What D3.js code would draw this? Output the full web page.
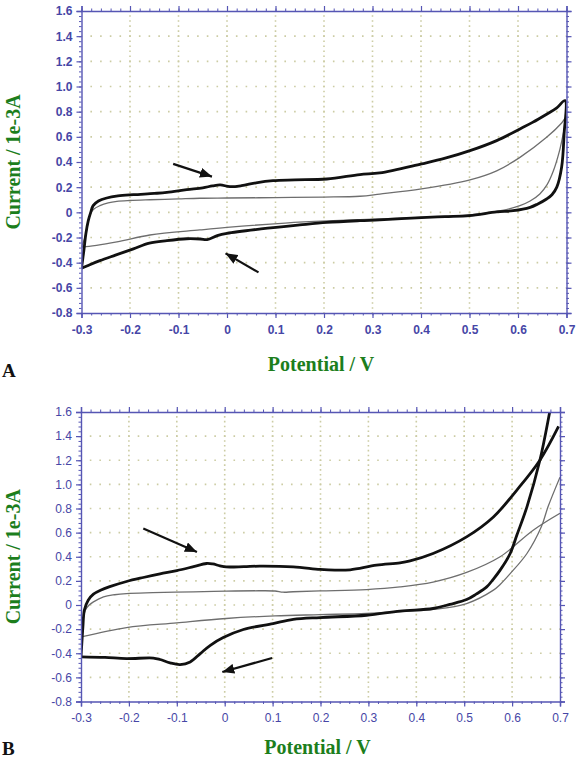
<!DOCTYPE html>
<html><head><meta charset="utf-8">
<script src="https://cdn.jsdelivr.net/npm/d3@7"></script>
<style>body{margin:0;background:#fff}svg{display:block}</style>
</head><body>
<svg id="c" width="577" height="761"></svg>
<script>
// ---------- DATA ----------
const xTicks = [-0.3,-0.2,-0.1,0,0.1,0.2,0.3,0.4,0.5,0.6,0.7];
const yTicks = [-0.8,-0.6,-0.4,-0.2,0,0.2,0.4,0.6,0.8,1.0,1.2,1.4,1.6];
const xTitle = "Potential / V";
const yTitle = "Current / 1e-3A";
const panelLabels = ["A","B"];

// Panel A: thick loop (modified electrode), thin loop (bare)
const aThick = [[-0.300,-0.445],[-0.295,-0.30],[-0.291,-0.17],[-0.286,-0.066],[-0.281,0.0],[-0.276,0.053],[-0.265,0.09],[-0.248,0.114],[-0.225,0.130],[-0.193,0.140],[-0.150,0.150],[-0.124,0.158],[-0.083,0.180],[-0.050,0.195],[-0.030,0.210],[-0.014,0.218],[0.006,0.204],[0.030,0.212],[0.060,0.235],[0.095,0.252],[0.140,0.258],[0.206,0.265],[0.274,0.300],[0.315,0.313],[0.401,0.385],[0.450,0.430],[0.501,0.490],[0.556,0.570],[0.604,0.663],[0.630,0.715],[0.659,0.780],[0.680,0.830],[0.697,0.888],
  [0.695,0.62],[0.690,0.36],[0.680,0.20],[0.670,0.14],[0.659,0.106],[0.640,0.065],[0.625,0.040],[0.590,0.013],[0.556,0.003],[0.500,-0.026],[0.450,-0.034],[0.401,-0.042],[0.315,-0.060],[0.274,-0.066],[0.206,-0.080],[0.150,-0.100],[0.070,-0.132],[0.000,-0.167],[-0.020,-0.185],[-0.041,-0.217],[-0.055,-0.212],[-0.083,-0.210],[-0.124,-0.225],[-0.160,-0.245],[-0.193,-0.290],[-0.230,-0.340],[-0.262,-0.384],[-0.285,-0.420],[-0.300,-0.445]];
const aThin = [[-0.300,-0.275],[-0.293,-0.20],[-0.287,-0.09],[-0.282,-0.013],[-0.275,0.025],[-0.262,0.053],[-0.245,0.075],[-0.227,0.087],[-0.200,0.094],[-0.159,0.100],[-0.100,0.107],[-0.056,0.112],[0.000,0.114],[0.100,0.117],[0.200,0.121],[0.274,0.128],[0.315,0.145],[0.401,0.186],[0.501,0.258],[0.556,0.330],[0.604,0.437],[0.659,0.596],[0.690,0.710],[0.700,0.760],
  [0.693,0.62],[0.685,0.48],[0.673,0.33],[0.660,0.22],[0.645,0.146],[0.625,0.090],[0.604,0.053],[0.580,0.025],[0.556,0.008],[0.500,-0.020],[0.401,-0.040],[0.315,-0.053],[0.206,-0.068],[0.120,-0.085],[0.000,-0.120],[-0.056,-0.140],[-0.159,-0.180],[-0.227,-0.235],[-0.296,-0.275],[-0.300,-0.275]];

// Panel B
const bThickFwd = [[-0.300,-0.43],[-0.298,-0.30],[-0.296,-0.18],[-0.293,-0.043],[-0.285,0.04],[-0.274,0.09],[-0.258,0.125],[-0.240,0.152],[-0.205,0.195],[-0.170,0.228],[-0.135,0.258],[-0.100,0.285],[-0.065,0.318],[-0.038,0.344],[-0.025,0.340],[-0.010,0.325],[0.003,0.316],[0.040,0.318],[0.073,0.322],[0.143,0.316],[0.199,0.295],[0.230,0.289],[0.262,0.292],[0.317,0.330],[0.366,0.350],[0.387,0.366],[0.435,0.427],[0.505,0.565],[0.561,0.730],[0.610,0.953],[0.658,1.200],[0.697,1.480]];
const bThickRev = [[0.690,1.85],[0.678,1.59],[0.658,1.20],[0.631,0.814],[0.610,0.58],[0.596,0.427],[0.575,0.289],[0.561,0.215],[0.547,0.150],[0.525,0.09],[0.505,0.045],[0.470,0.005],[0.435,-0.029],[0.366,-0.050],[0.296,-0.085],[0.199,-0.104],[0.143,-0.120],[0.101,-0.154],[0.039,-0.203],[-0.003,-0.270],[-0.030,-0.334],[-0.051,-0.403],[-0.072,-0.472],[-0.093,-0.494],[-0.114,-0.480],[-0.135,-0.452],[-0.149,-0.440],[-0.205,-0.444],[-0.250,-0.435],[-0.300,-0.430]];
const bThinFwd = [[-0.300,-0.265],[-0.298,-0.20],[-0.295,-0.11],[-0.291,-0.043],[-0.283,0.0],[-0.274,0.026],[-0.253,0.067],[-0.230,0.085],[-0.205,0.095],[-0.150,0.102],[-0.065,0.109],[0.003,0.115],[0.074,0.118],[0.105,0.116],[0.122,0.106],[0.143,0.110],[0.199,0.117],[0.296,0.128],[0.366,0.150],[0.435,0.190],[0.505,0.270],[0.575,0.400],[0.644,0.620],[0.700,0.760]];
const bThinRev = [[0.700,1.06],[0.675,0.814],[0.661,0.648],[0.631,0.427],[0.596,0.260],[0.575,0.170],[0.561,0.123],[0.505,0.012],[0.435,-0.037],[0.366,-0.055],[0.296,-0.070],[0.199,-0.080],[0.105,-0.090],[0.003,-0.112],[-0.100,-0.148],[-0.205,-0.187],[-0.300,-0.265]];

// Arrow annotations [fromV, fromI, toV, toI]
const aArrows = [[-0.111,0.385,-0.031,0.284],[0.065,-0.477,-0.003,-0.326]];
const bArrows = [[-0.170,0.635,-0.058,0.440],[0.099,-0.439,-0.005,-0.555]];

// ---------- DRAW ----------
const svg = d3.select("#c");
const defs = svg.append("defs");
defs.append("marker").attr("id","ah").attr("viewBox","0 0 12 10")
  .attr("refX",12).attr("refY",5).attr("markerWidth",12).attr("markerHeight",10)
  .attr("markerUnits","userSpaceOnUse").attr("orient","auto")
  .append("path").attr("d","M0,0 L12,5 L0,10 Z").attr("fill","#111");

const fmt = d => Math.abs(d) < 1e-9 ? "0" : d.toFixed(1);
const axisCol = "#5656b4", labCol = "#4646a6", gridCol = "#cccca4", titleCol = "#1c7e1c";

function panel(idx, box, series, arrows, bold, titleY, letterY) {
  const x = d3.scaleLinear().domain([-0.3,0.7]).range([box.l, box.r]);
  const y = d3.scaleLinear().domain([-0.8,1.6]).range([box.b, box.t]);
  const g = svg.append("g");
  const cid = "clip"+idx;
  defs.append("clipPath").attr("id",cid).append("rect")
    .attr("x",box.l).attr("y",box.t).attr("width",box.r-box.l).attr("height",box.b-box.t);

  // grid (dots at minor positions)
  const xMinorStep = x(0.02) - x(0);
  const yMinorStep = y(0) - y(0.04);
  g.append("g").selectAll("line").data(yTicks.filter(v => v > -0.8 && v < 1.6)).join("line")
    .attr("x1", box.l).attr("x2", box.r).attr("y1", d => y(d)).attr("y2", d => y(d))
    .attr("stroke", gridCol).attr("stroke-width", 1.6)
    .attr("stroke-dasharray", `1.6,${xMinorStep-1.6}`).attr("stroke-dashoffset", -xMinorStep+0.8);
  g.append("g").selectAll("line").data(xTicks.filter(v => v > -0.3 && v < 0.7)).join("line")
    .attr("y1", box.b).attr("y2", box.t).attr("x1", d => x(d)).attr("x2", d => x(d))
    .attr("stroke", gridCol).attr("stroke-width", 1.6)
    .attr("stroke-dasharray", `1.6,${yMinorStep-1.6}`).attr("stroke-dashoffset", -yMinorStep+0.8);

  // curves
  const line = d3.line().x(d => x(d[0])).y(d => y(d[1])).curve(d3.curveCatmullRom.alpha(0.5));
  const cg = g.append("g").attr("clip-path", `url(#${cid})`);
  series.forEach(s => {
    cg.append("path").attr("d", line(s.data)).attr("fill","none")
      .attr("stroke", s.thick ? "#111" : "#6e6e6e")
      .attr("stroke-width", s.thick ? 2.8 : 1.3).attr("stroke-linejoin","round");
  });

  // axes
  const minorX = d3.range(-0.3, 0.7001, 0.02), minorY = d3.range(-0.8, 1.6001, 0.04);
  const axes = [
    {a: d3.axisLeft(y), tr: `translate(${box.l},0)`, lab: true, minor: minorY},
    {a: d3.axisRight(y), tr: `translate(${box.r},0)`, lab: false, minor: minorY},
    {a: d3.axisBottom(x), tr: `translate(0,${box.b})`, lab: true, minor: minorX, isX: true},
    {a: d3.axisTop(x), tr: `translate(0,${box.t})`, lab: false, minor: minorX, isX: true}
  ];
  axes.forEach(o => {
    const ticks = o.isX ? xTicks : yTicks;
    const gm = g.append("g").attr("transform", o.tr)
      .call(o.a.tickValues(o.minor).tickSize(2.5).tickFormat(""));
    gm.select(".domain").remove();
    gm.selectAll("line").attr("stroke", axisCol);
    const ga = g.append("g").attr("transform", o.tr)
      .call(o.a.tickValues(ticks).tickSize(5).tickPadding(o.isX ? 7 : 4).tickFormat(o.lab ? fmt : ""));
    ga.select(".domain").attr("stroke", axisCol).attr("stroke-width", 1.4);
    ga.selectAll("line").attr("stroke", axisCol).attr("stroke-width", 1.2);
    ga.selectAll("text").attr("fill", labCol)
      .style("font-family", "Liberation Sans, Arial, sans-serif")
      .style("font-size", "12px").style("font-weight", bold ? "bold" : "normal");
  });

  // arrows
  g.append("g").selectAll("line").data(arrows).join("line")
    .attr("x1", d => x(d[0])).attr("y1", d => y(d[1]))
    .attr("x2", d => x(d[2])).attr("y2", d => y(d[3]))
    .attr("stroke", "#111").attr("stroke-width", 2.2).attr("marker-end", "url(#ah)");

  // titles
  const tf = "Liberation Serif, Times New Roman, serif";
  g.append("text").attr("x", (box.l+box.r)/2 - 3).attr("y", titleY).attr("text-anchor","middle")
    .attr("fill", titleCol).style("font-family", tf).style("font-weight","bold").style("font-size","20px")
    .text(xTitle);
  g.append("text").attr("transform", `translate(20,${(box.t+box.b)/2}) rotate(-90)`).attr("text-anchor","middle")
    .attr("fill", titleCol).style("font-family", tf).style("font-weight","bold").style("font-size","20px")
    .text(yTitle);
  g.append("text").attr("x", 2).attr("y", letterY)
    .attr("fill", "#111").style("font-family", tf).style("font-weight","bold").style("font-size","19px")
    .text(panelLabels[idx]);
}

panel(0, {l:81.5, r:566.5, t:11, b:313},
  [{data:aThin, thick:false},{data:aThick, thick:true}], aArrows, true, 371, 377);
panel(1, {l:81, r:560, t:412, b:701.5},
  [{data:bThinFwd, thick:false},{data:bThinRev, thick:false},{data:bThickFwd, thick:true},{data:bThickRev, thick:true}], bArrows, false, 754, 755);
</script>
</body></html>
